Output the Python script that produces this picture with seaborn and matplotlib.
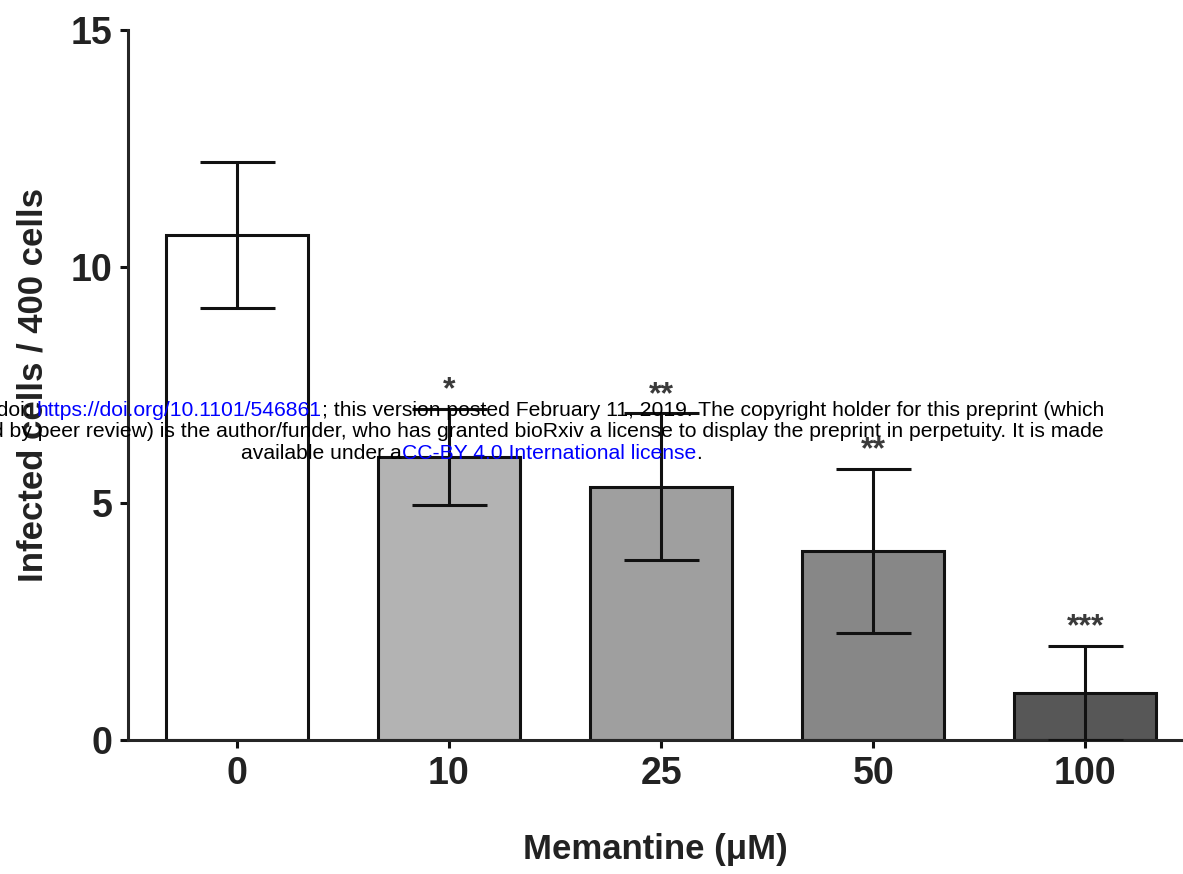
import matplotlib
matplotlib.use('Agg')
import numpy as np
import pandas as pd
import seaborn as sns
import matplotlib.pyplot as plt

# data
doses = ['0', '10', '25', '50', '100']
means = [10.67, 5.98, 5.35, 4.0, 1.0]
errors = [1.54, 1.02, 1.55, 1.73, 1.0]
stars = ['', '*', '**', '**', '***']
bar_colors = ['#ffffff', '#b3b3b3', '#9f9f9f', '#878787', '#575757']

W, H = 1183, 874

sns.set_style('ticks')
plt.rcParams['font.family'] = ['Liberation Sans', 'DejaVu Sans']
plt.rcParams['axes.linewidth'] = 2.2

fig = plt.figure(figsize=(W / 100, H / 100), dpi=100)
ax = fig.add_axes([0.108, 0.153, 0.892, 0.813])

df = pd.DataFrame({'dose': doses, 'cells': means})
sns.barplot(data=df, x='dose', y='cells', hue='dose', palette=bar_colors,
            legend=False, width=0.67, edgecolor='#111111', linewidth=2.2,
            saturation=1, ax=ax)

ax.errorbar(range(len(doses)), means, yerr=errors, fmt='none', ecolor='#111111',
            elinewidth=2.2, capsize=27, capthick=2.2, zorder=3)

# significance stars
for i, s in enumerate(stars):
    if s:
        ax.text(i, means[i] + errors[i] + 0.22, s, ha='center', va='baseline',
                fontsize=23, fontweight='bold', color='#3a3a3a')

ax.set_ylim(0, 15)
ax.set_yticks([0, 5, 10, 15])
ax.set_xlim(-0.514, 4.46)
sns.despine(ax=ax)
ax.tick_params(axis='both', width=2.2, length=6, labelsize=27, pad=5, color='#111111')
for lab in ax.get_xticklabels() + ax.get_yticklabels():
    lab.set_fontweight('bold')
    lab.set_color('#222222')

ax.set_xlabel('Memantine (\u03bcM)', fontsize=25, fontweight='bold', color='#222222')
ax.xaxis.set_label_coords(0.5, -0.13)
ax.set_ylabel('Infected cells / 400 cells', fontsize=25, fontweight='bold', color='#222222')
ax.yaxis.set_label_coords(-0.074, 0.5)

# bioRxiv watermark
renderer = fig.canvas.get_renderer()
wm_size = 15.2


def text_width(s):
    t = fig.text(0, 0, s, fontsize=wm_size)
    w = t.get_window_extent(renderer).width
    t.remove()
    return w


def watermark_line(parts, x_px, y_px, align):
    full = ''.join(p for p, _ in parts)
    total = text_width(full)
    start = x_px if align == 'left' else x_px - total
    pos = 0
    for p, c in parts:
        pos += len(p)
        seg = p.strip()
        end = full[:pos].rstrip()
        x = start + text_width(end) - text_width(seg)
        fig.text(x / W, 1 - y_px / H, seg, fontsize=wm_size, color=c,
                 ha='left', va='center')


blue = '#0000ff'
watermark_line([('bioRxiv preprint doi: ', 'black'),
                ('https://doi.org/10.1101/546861', blue),
                ('; this version posted February 11, 2019. The copyright holder for this preprint (which', 'black')],
               1104, 411, 'right')
watermark_line([('was not certified by peer review) is the author/funder, who has granted bioRxiv a license to display the preprint in perpetuity. It is made', 'black')],
               1104, 432, 'right')
watermark_line([('available under a', 'black'),
                ('CC-BY 4.0 International license', blue),
                ('.', 'black')],
               241, 453, 'left')

fig.savefig('out.png', dpi=100)
